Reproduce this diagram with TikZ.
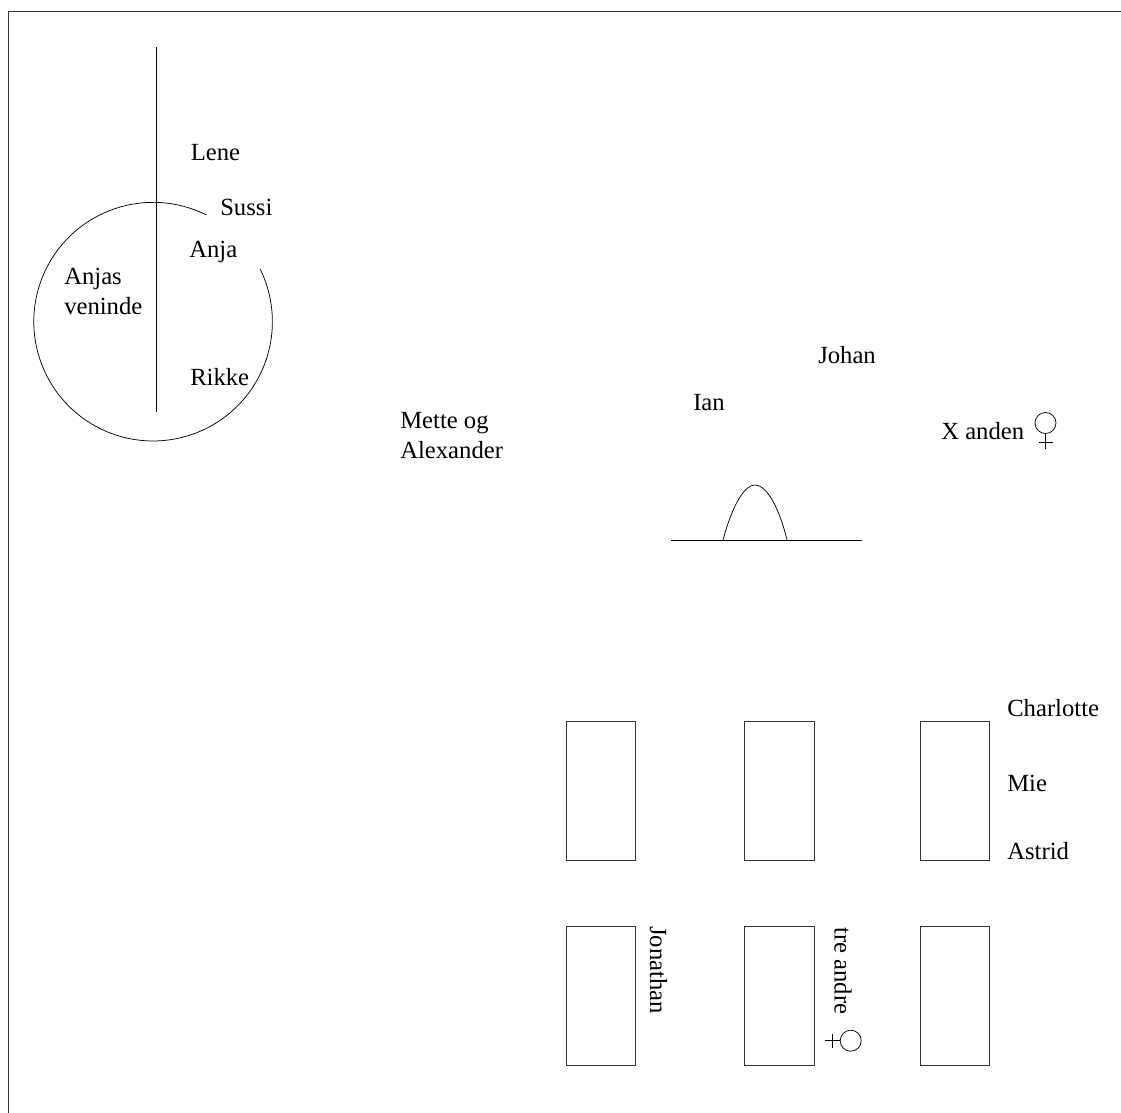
\documentclass[tikz,border=0pt]{standalone}
\usepackage{fontspec}
\setmainfont{Liberation Serif}
\usepackage{tikz}
\tikzset{guest/.style={anchor=base west,inner sep=0pt,align=left,
  font=\fontsize{18.5}{22.5}\selectfont},
  sideguest/.style={guest,rotate=-90},
  table/.style={draw=black!80,line width=0.7pt,minimum width=52.2pt,minimum height=104.4pt,inner sep=0pt},
  thin line/.style={draw=black,line width=0.55pt}}
\begin{document}
\begin{tikzpicture}[x=0.75pt,y=-0.75pt]
\useasboundingbox (0,0) rectangle (1121,1113);
\draw[draw=black!80,line width=0.7pt] (8,1113) -- (8,11) -- (1121,11);
% dance floor
\draw[thin line,line width=0.7pt] (156,47) -- (156,412);
\draw[thin line] (206.5,215) arc[start angle=-63.4,end angle=-386.1,radius=119.3];
\node[guest] (lene) at (190.5,160) {Lene};
\node[guest] (sussi) at (220,215) {Sussi};
\node[guest] (anja) at (189,257) {Anja};
\node[guest] (veninde) at (64,314) {Anjas\\veninde};
\node[guest] (rikke) at (190,385) {Rikke};
% bar
\node[guest] (johan) at (818,363) {Johan};
\node[guest] (ian) at (693,410) {Ian};
\node[guest] (mette) at (400,458) {Mette og\\Alexander};
\node[guest] (xanden) at (941,439) {X anden};
\draw[thin line] (671,540) -- (862,540);
\draw[thin line] (723,540) .. controls (733,503) and (745,485) .. (755,485) .. controls (765,485) and (778,503) .. (787,540);
\draw[thin line] (1045.5,423) circle[radius=10.5];
\draw[thin line] (1045.5,433.5) -- (1045.5,449);
\draw[thin line] (1038.5,442) -- (1052.5,442);
% tables
\node[table] (t1) at (601,790.7) {};
\node[table] (t2) at (779.7,790.7) {};
\node[table] (t3) at (955,790.7) {};
\node[table] (t4) at (601,995.7) {};
\node[table] (t5) at (779.7,995.7) {};
\node[table] (t6) at (955,995.7) {};
\node[guest] (charlotte) at (1007,716) {Charlotte};
\node[guest] (mie) at (1007,791) {Mie};
\node[guest] (astrid) at (1007,859) {Astrid};
\node[sideguest] (jonathan) at (650,926) {Jonathan};
\node[sideguest] (treandre) at (834.5,927) {tre andre};
\draw[thin line] (850.7,1040.7) circle[radius=10.5];
\draw[thin line] (840.2,1040.7) -- (825,1040.7);
\draw[thin line] (832.3,1034) -- (832.3,1048);
\end{tikzpicture}
\end{document}
